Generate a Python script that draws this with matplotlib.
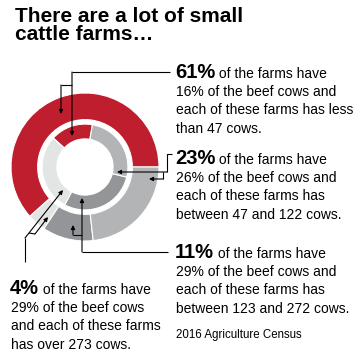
import matplotlib
matplotlib.use("Agg")
import matplotlib.pyplot as plt

# share of farms (outer ring) and share of beef cows (inner ring), per herd size group
groups = ["less than 47", "over 273", "123 to 272", "47 to 122"]
farms_pct = [61, 4, 11, 23]
cows_pct = [16, 29, 29, 26]
colors = ["#be1e2d", "#e3e4e4", "#939598", "#b2b4b6"]

title = "There are a lot of small\ncattle farms\u2026"
source = "2016 Agriculture Census"

# callout texts: (bold number, rest of first line, other lines)
callouts = {
    "61": ("61%", " of the farms have",
           ["16% of the beef cows and", "each of these farms has less", "than 47 cows."]),
    "23": ("23%", " of the farms have",
           ["26% of the beef cows and", "each of these farms has", "between 47 and 122 cows."]),
    "11": ("11%", " of the farms have",
           ["29% of the beef cows and", "each of these farms has", "between 123 and 272 cows."]),
    "4": ("4%", " of the farms have",
          ["29% of the beef cows", "and each of these farms", "has over 273 cows."]),
}

plt.rcParams['font.family'] = ['Liberation Sans', 'DejaVu Sans']

W = H = 360
fig = plt.figure(figsize=(3.6, 3.6), dpi=100)

# donut
cx, cy, R = 85, 167, 74
ax = fig.add_axes([(cx - R) / W, 1 - (cy + R) / H, 2 * R / W, 2 * R / H])
ax.pie(farms_pct, colors=colors, radius=1.0, startangle=0, counterclock=True,
       wedgeprops=dict(width=0.36, edgecolor="white", linewidth=0.8))
ax.pie(cows_pct, colors=colors, radius=0.58, startangle=80, counterclock=True,
       wedgeprops=dict(width=0.2, edgecolor="white", linewidth=0.8))
ax.set_xlim(-1, 1)
ax.set_ylim(-1, 1)
ax.set_aspect("equal")
ax.axis("off")

# overlay in pixel coordinates (origin top-left)
over = fig.add_axes([0, 0, 1, 1])
over.set_xlim(0, W)
over.set_ylim(H, 0)
over.axis("off")
over.patch.set_alpha(0)


def leader(points):
    xs = [p[0] for p in points[:-1]]
    ys = [p[1] for p in points[:-1]]
    over.plot(xs, ys, color="black", lw=0.8, solid_capstyle="butt", solid_joinstyle="miter")
    over.annotate("", xy=points[-1], xytext=points[-2],
                  arrowprops=dict(arrowstyle="-|>", color="black", lw=0.8,
                                  mutation_scale=6, shrinkA=0, shrinkB=0))


# 61%
leader([(170, 72), (72, 72), (72, 136)])
leader([(72, 85), (61, 85), (61, 114)])
# 23%
leader([(172, 154), (167, 154), (167, 172), (117, 172)])
leader([(163, 172), (163, 179), (149, 179)])
# 11%
leader([(168, 252), (82, 252), (82, 198)])
leader([(82, 235), (73, 235), (73, 225)])
# 4%
leader([(25, 262), (25, 238), (63, 190)])
leader([(29, 233), (35, 234), (48, 217)])

over.text(15, 7, title, fontsize=15, fontweight="bold", va="top", ha="left",
          linespacing=0.95)

fig.canvas.draw()
renderer = fig.canvas.get_renderer()
inv = over.transData.inverted()

positions = {"61": (175, 78), "23": (175, 164), "11": (175, 258), "4": (10, 294)}
pitch = 18.2
for key, (big, rest, lines) in callouts.items():
    x0, y0 = positions[key]
    t = over.text(x0, y0, big, fontsize=14.5, fontweight="bold", va="baseline", ha="left")
    bb = t.get_window_extent(renderer=renderer)
    xr = inv.transform((bb.x1, bb.y0))[0]
    over.text(xr, y0, rest, fontsize=10, va="baseline", ha="left")
    for i, line in enumerate(lines):
        over.text(x0 + 1, y0 + pitch * (i + 1), line, fontsize=10, va="baseline", ha="left")

over.text(176, 338, source, fontsize=8.3, va="baseline", ha="left")

fig.savefig("out.png", dpi=100)
